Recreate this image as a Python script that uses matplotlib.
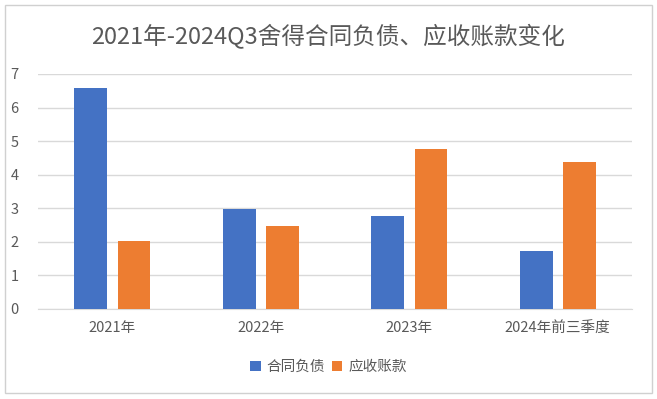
import numpy as np
import matplotlib.pyplot as plt
from matplotlib.patches import Rectangle

plt.rcParams['font.family'] = ['Noto Sans CJK SC', 'DejaVu Sans']

categories = ['2021年', '2022年', '2023年', '2024年前三季度']
contract_liab = [6.58, 2.98, 2.76, 1.73]   # 合同负债
receivables = [2.02, 2.47, 4.78, 4.39]     # 应收账款
series_names = ['合同负债', '应收账款']

text_color = '#595959'
grid_color = '#D9D9D9'

fig = plt.figure(figsize=(6.57, 3.99), dpi=100)
ax = fig.add_axes([0.058, 0.2256, 0.904, 0.589])

x = np.arange(len(categories))
w = 0.22
gap = 0.07
ax.bar(x - (w + gap) / 2, contract_liab, w, color='#4472C4', label=series_names[0], zorder=3)
ax.bar(x + (w + gap) / 2, receivables, w, color='#ED7D31', label=series_names[1], zorder=3)

ax.set_xlim(-0.5, len(categories) - 0.5)
ax.set_ylim(0, 7)
ax.set_yticks(range(0, 8))
ax.set_xticks(x)
ax.set_xticklabels(categories)
ax.yaxis.grid(True, color=grid_color, linewidth=1, zorder=0)
for s in ['top', 'right', 'left']:
    ax.spines[s].set_visible(False)
ax.spines['bottom'].set_color(grid_color)
ax.tick_params(axis='both', length=0, colors=text_color, labelsize=10.5)
ax.tick_params(axis='x', pad=9)
ax.tick_params(axis='y', pad=14)

fig.suptitle('2021年-2024Q3舍得合同负债、应收账款变化', x=0.5, y=0.94,
             fontsize=17, color=text_color)

leg = fig.legend(loc='center', bbox_to_anchor=(0.5, 0.08), ncol=2, frameon=False,
                 fontsize=10.5, handlelength=0.7, handleheight=0.7, handletextpad=0.4,
                 columnspacing=0.5)
for t in leg.get_texts():
    t.set_color(text_color)

fig.patches.append(Rectangle((0.008, 0.015), 0.984, 0.972, transform=fig.transFigure,
                             fill=False, edgecolor='#D0D0D0', linewidth=1))

fig.savefig('out.png', dpi=100)
